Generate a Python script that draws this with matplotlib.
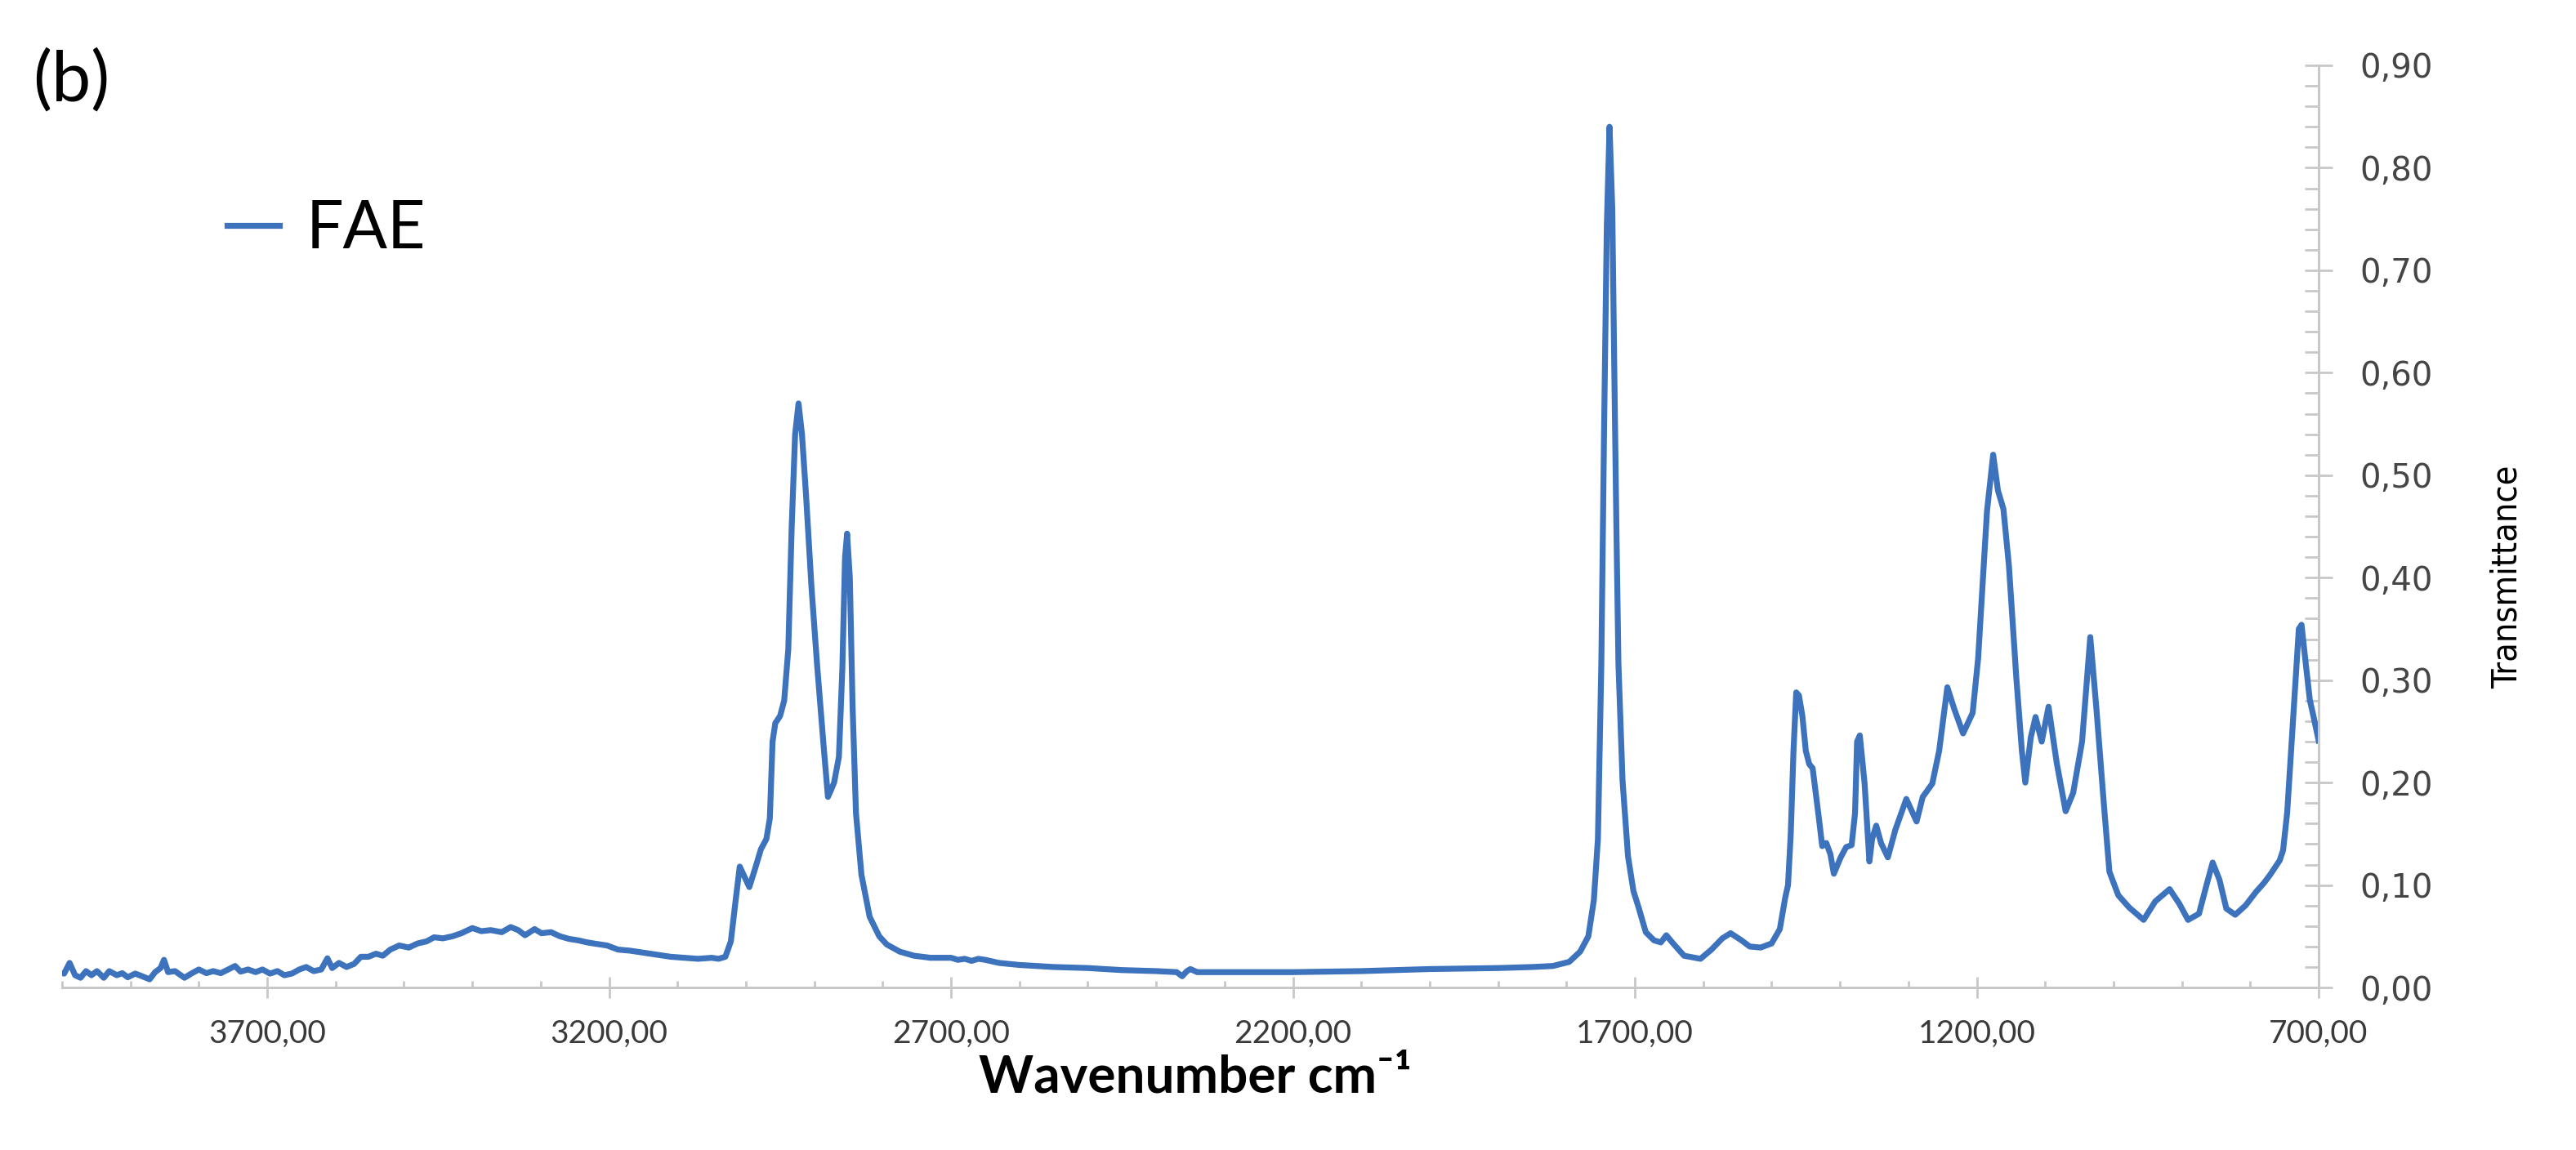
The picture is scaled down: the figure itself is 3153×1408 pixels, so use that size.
import numpy as np
import matplotlib.pyplot as plt
from matplotlib.ticker import MultipleLocator, FixedLocator, FuncFormatter

# FTIR spectrum of FAE
wavenumber = [4000, 3997, 3989, 3981, 3973, 3965, 3957, 3949, 3939, 3931, 3920, 3912, 3904,
              3893, 3883, 3872, 3864, 3856, 3851, 3845, 3835, 3821, 3811, 3800, 3789, 3779,
              3768, 3757, 3747, 3739, 3728, 3717, 3707, 3696, 3685, 3675, 3664, 3653, 3643,
              3632, 3621, 3612, 3605, 3595, 3584, 3573, 3563, 3552, 3541, 3531, 3520, 3507,
              3493, 3480, 3467, 3456, 3443, 3429, 3416, 3400, 3387, 3373, 3357, 3344, 3333,
              3323, 3309, 3299, 3285, 3272, 3259, 3245, 3232, 3219, 3203, 3187, 3170, 3150,
              3130, 3110, 3090, 3070, 3050, 3040, 3030, 3022, 3015, 3009, 3002, 2995, 2987,
              2978, 2970, 2965, 2961, 2957, 2950, 2944, 2938, 2933, 2928, 2923, 2918, 2912,
              2904, 2896, 2886, 2880, 2876, 2871, 2864, 2859, 2855, 2852, 2848, 2844, 2839,
              2831, 2819, 2805, 2794, 2775, 2754, 2730, 2700, 2690, 2680, 2670, 2660, 2650,
              2630, 2600, 2550, 2500, 2450, 2400, 2370, 2362, 2355, 2350, 2340, 2300, 2250,
              2200, 2150, 2100, 2050, 2000, 1950, 1900, 1850, 1820, 1796, 1780, 1768, 1760,
              1754, 1749, 1745, 1741, 1737, 1733, 1730, 1727, 1724, 1718, 1710, 1702, 1694,
              1684, 1672, 1662, 1654, 1644, 1628, 1604, 1588, 1572, 1560, 1544, 1532, 1516,
              1500, 1488, 1480, 1476, 1472, 1468, 1464, 1460, 1455, 1450, 1445, 1440, 1431,
              1426, 1420, 1414, 1409, 1399, 1391, 1383, 1378, 1375, 1371, 1364, 1357, 1353,
              1347, 1340, 1330, 1319, 1303, 1288, 1279, 1265, 1255, 1243, 1233, 1220, 1206,
              1198, 1185, 1176, 1169, 1161, 1153, 1142, 1134, 1129, 1121, 1114, 1105, 1095,
              1083, 1070, 1059, 1046, 1034, 1025, 1014, 1006, 993, 977, 956, 939, 918, 904,
              891, 875, 864, 855, 845, 835, 822, 807, 792, 780, 771, 757, 752, 746, 740, 734,
              729, 725, 721, 713, 708, 700]
transmittance = [0.014, 0.0136, 0.024, 0.012, 0.0095, 0.016, 0.012, 0.016, 0.0095, 0.016, 0.012,
                 0.014, 0.010, 0.0136, 0.011, 0.008, 0.015, 0.019, 0.027, 0.015, 0.016, 0.0095,
                 0.0136, 0.0176, 0.014, 0.016, 0.014, 0.0176, 0.021, 0.0155, 0.0176, 0.015,
                 0.0176, 0.0136, 0.016, 0.012, 0.0136, 0.0176, 0.020, 0.016, 0.0176, 0.0285,
                 0.019, 0.024, 0.020, 0.023, 0.030, 0.030, 0.033, 0.031, 0.037, 0.041, 0.039,
                 0.043, 0.045, 0.049, 0.048, 0.050, 0.053, 0.058, 0.055, 0.056, 0.054, 0.059,
                 0.056, 0.051, 0.057, 0.053, 0.054, 0.050, 0.0475, 0.046, 0.044, 0.0426, 0.041,
                 0.037, 0.036, 0.034, 0.032, 0.030, 0.029, 0.028, 0.029, 0.028, 0.030, 0.045,
                 0.085, 0.118, 0.108, 0.098, 0.115, 0.135, 0.145, 0.165, 0.24, 0.258, 0.265,
                 0.28, 0.33, 0.45, 0.54, 0.57, 0.54, 0.48, 0.39, 0.316, 0.233, 0.186, 0.192,
                 0.2, 0.225, 0.31, 0.42, 0.443, 0.40, 0.275, 0.17, 0.11, 0.069, 0.05, 0.042,
                 0.035, 0.031, 0.029, 0.029, 0.027, 0.028, 0.026, 0.028, 0.027, 0.024, 0.022,
                 0.020, 0.019, 0.017, 0.016, 0.015, 0.011, 0.016, 0.018, 0.015, 0.015, 0.015,
                 0.015, 0.0155, 0.016, 0.017, 0.018, 0.0185, 0.019, 0.020, 0.021, 0.025, 0.035,
                 0.05, 0.085, 0.145, 0.316, 0.544, 0.743, 0.84, 0.76, 0.60, 0.45, 0.316, 0.202,
                 0.128, 0.094, 0.077, 0.054, 0.046, 0.044, 0.051, 0.043, 0.031, 0.028, 0.037,
                 0.048, 0.053, 0.046, 0.040, 0.039, 0.043, 0.057, 0.088, 0.10, 0.15, 0.231,
                 0.288, 0.285, 0.265, 0.231, 0.218, 0.214, 0.166, 0.138, 0.141, 0.13, 0.111,
                 0.127, 0.137, 0.139, 0.17, 0.24, 0.246, 0.199, 0.123, 0.145, 0.158, 0.141,
                 0.127, 0.154, 0.184, 0.162, 0.186, 0.199, 0.231, 0.293, 0.272, 0.248, 0.268,
                 0.321, 0.465, 0.52, 0.485, 0.467, 0.412, 0.301, 0.231, 0.200, 0.244, 0.264,
                 0.240, 0.274, 0.219, 0.172, 0.190, 0.240, 0.342, 0.272, 0.178, 0.113, 0.090,
                 0.078, 0.066, 0.084, 0.096, 0.082, 0.066, 0.072, 0.10, 0.122, 0.105, 0.077,
                 0.071, 0.080, 0.093, 0.102, 0.110, 0.124, 0.134, 0.171, 0.234, 0.297, 0.350,
                 0.354, 0.329, 0.281, 0.266, 0.241]

x_major = [3700, 3200, 2700, 2200, 1700, 1200, 700]
y_major = [0.0, 0.1, 0.2, 0.3, 0.4, 0.5, 0.6, 0.7, 0.8, 0.9]

axis_grey = '#c8c8c8'
line_blue = '#3d72bd'

fig = plt.figure(figsize=(31.53, 14.08), dpi=100)
ax = fig.add_axes([0.0241, 0.1413, 0.9001 - 0.0241, 0.9432 - 0.1413])

ax.plot(wavenumber, transmittance, color=line_blue, lw=5.2, label='FAE',
        solid_joinstyle='round')

ax.set_xlim(4000, 700)
ax.set_ylim(0, 0.9)

# spines: only bottom and right, light grey
for s in ['top', 'left']:
    ax.spines[s].set_visible(False)
for s in ['bottom', 'right']:
    ax.spines[s].set_color(axis_grey)
    ax.spines[s].set_linewidth(2.2)

ax.yaxis.tick_right()
ax.yaxis.set_label_position('right')

ax.xaxis.set_major_locator(FixedLocator(x_major))
ax.xaxis.set_minor_locator(MultipleLocator(100))
ax.yaxis.set_major_locator(FixedLocator(y_major))
ax.yaxis.set_minor_locator(MultipleLocator(0.02))

ax.xaxis.set_major_formatter(FuncFormatter(lambda v, p: f'{v:.2f}'.replace('.', ',')))
ax.yaxis.set_major_formatter(FuncFormatter(lambda v, p: f'{v:.2f}'.replace('.', ',')))

ax.tick_params(axis='x', which='major', direction='inout', length=19, width=2,
               color=axis_grey, pad=18, labelsize=28, labelcolor='#3a3a3a')
ax.tick_params(axis='x', which='minor', direction='in', length=6, width=2, color=axis_grey)
ax.tick_params(axis='y', which='major', direction='inout', length=24, width=2,
               color=axis_grey, pad=24, labelsize=29, labelcolor='#454545')
ax.tick_params(axis='y', which='minor', direction='in', length=12, width=2, color=axis_grey)

for lab in ax.get_xticklabels():
    lab.set_family(['Lato', 'DejaVu Sans'])
for lab in ax.get_yticklabels():
    lab.set_family('DejaVu Sans')

ax.set_xlabel('Wavenumber cm\u207b\u00b9', fontsize=46, fontweight='bold',
              family=['Lato', 'DejaVu Sans'])
ax.xaxis.set_label_coords(0.502, -0.072)

ax.set_ylabel('Transmittance', fontsize=31, family='DejaVu Sans', fontstretch='condensed',
              rotation=90, va='center')
ax.yaxis.set_label_coords(1.0835, 0.4455)

leg = ax.legend(loc='center left', bbox_to_anchor=(0.0731, 0.822), frameon=False,
                fontsize=58, handlelength=0.8, handletextpad=0.4,
                borderpad=0, borderaxespad=0)
for t in leg.get_texts():
    t.set_family(['Lato', 'DejaVu Sans'])

fig.text(0.0127, 0.930, '(b)', fontsize=62, family=['Lato', 'DejaVu Sans'],
         va='center', ha='left')

fig.savefig('out.png', dpi=100)
